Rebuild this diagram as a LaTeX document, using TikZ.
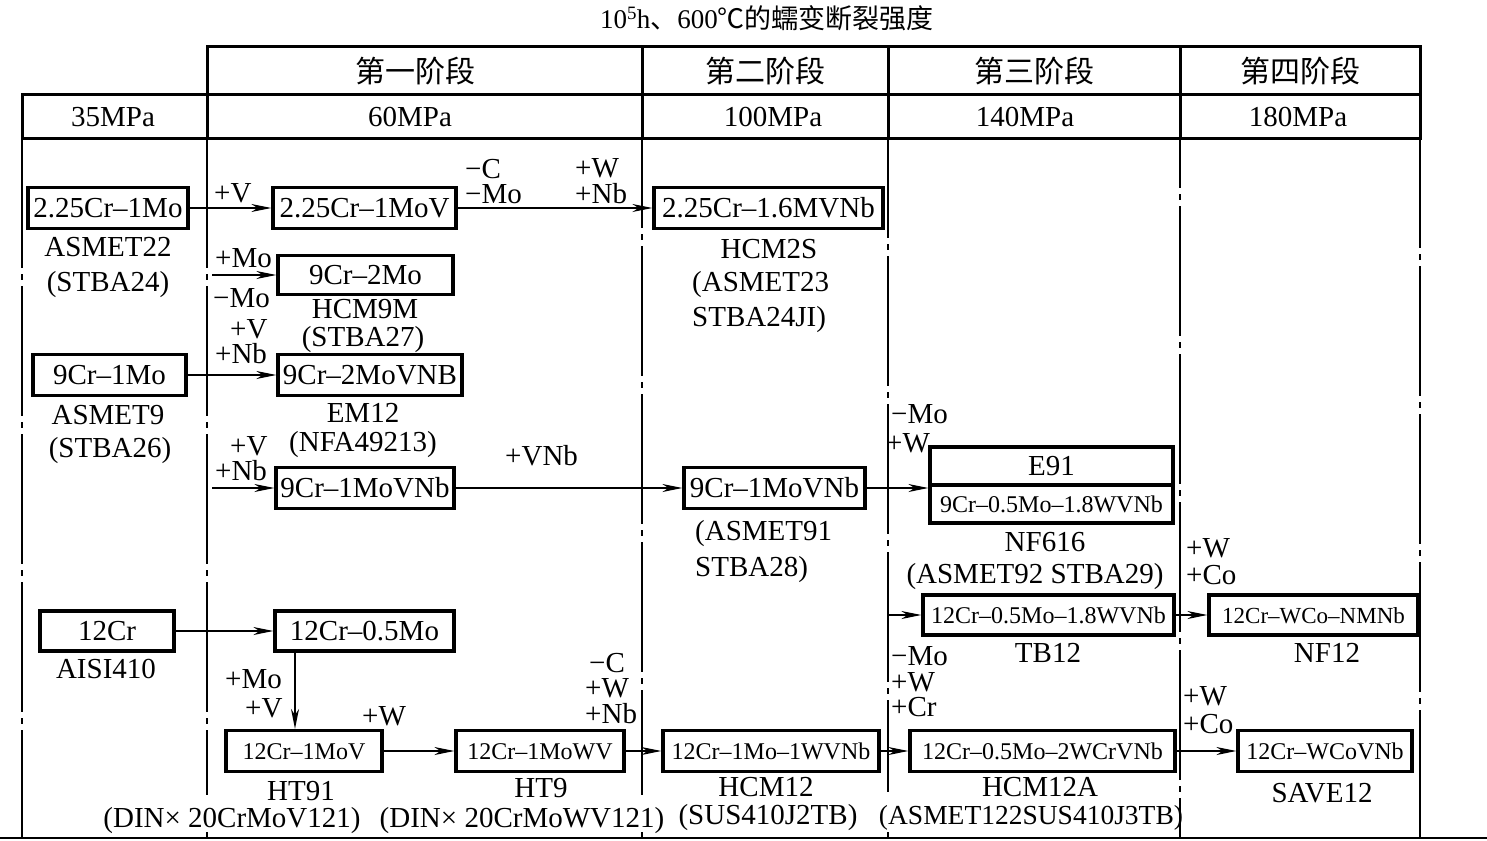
\documentclass[tikz,border=0pt]{standalone}
\usepackage{fontspec}
\setmainfont{Liberation Serif}
\newfontfamily\cjk{Noto Sans CJK SC}
\usetikzlibrary{arrows.meta}
\newcommand\nsz{\fontsize{29pt}{30pt}\selectfont}
\newcommand\ssz{\fontsize{24pt}{25pt}\selectfont}
\begin{document}
\begin{tikzpicture}[x=1pt,y=-1pt,
 bx/.style={draw,line width=3.2pt,minimum height=41pt,inner sep=0pt,font=\nsz,text height=19pt,text depth=0pt},
 sbx/.style={bx,font=\ssz,text height=16pt},
 lb/.style={font=\nsz,anchor=base,inner sep=0pt,text height=19pt,text depth=4pt},
 lbw/.style={lb,anchor=base west},
 arr/.style={line width=1.4pt,-{Stealth[length=20pt,width=8pt,inset=6pt]}},
 col/.style={line width=1.8pt,dash pattern=on 130pt off 6pt on 6pt off 6pt},
 hdr/.style={line width=3pt},
 hcn/.style={font=\cjk\fontsize{30pt}{31pt}\selectfont,inner sep=0pt},
 hmp/.style={font=\nsz,inner sep=0pt}]
\useasboundingbox (0,0) rectangle (1487,840);
% title
\node[font=\fontsize{27pt}{28pt}\selectfont,inner sep=0pt] (title) at (767,18) {10\textsuperscript{5}h{\cjk 、}600{\cjk ℃的蠕变断裂强度}};
% column lines
\draw[col,line width=1.4pt] (22,138) -- (22,838);
\draw[col] (207,138) -- (207,795);
\draw[col,dash phase=40pt] (642,138) -- (642,795);
\draw[col,dash phase=30pt] (888,138) -- (888,792);
\foreach \xx in {207,642,888} \draw[line width=1.8pt] (\xx,832) -- (\xx,838);
\draw[col,dash phase=80pt] (1180,138) -- (1180,838);
\draw[col,dash phase=20pt] (1420,138) -- (1420,838);
\draw[line width=1.4pt] (0,838) -- (1487,838);
% header
\draw[hdr] (207,47) rectangle (1420,95);
\draw[hdr] (22,95) rectangle (1420,138);
\draw[hdr] (207,95) -- (207,138);
\foreach \xx in {642,888,1180} \draw[hdr] (\xx,47) -- (\xx,138);
\node[hcn] (st1) at (415,71) {第一阶段};
\node[hcn] (st2) at (765,71) {第二阶段};
\node[hcn] (st3) at (1034,71) {第三阶段};
\node[hcn] (st4) at (1300,71) {第四阶段};
\node[hmp] (mp0) at (113,117) {35MPa};
\node[hmp] (mp1) at (410,117) {60MPa};
\node[hmp] (mp2) at (773,117) {100MPa};
\node[hmp] (mp3) at (1025,117) {140MPa};
\node[hmp] (mp4) at (1298,117) {180MPa};
% boxes
\node[bx,minimum width=160pt] (a1) at (108,208) {2.25Cr–1Mo};
\node[bx,minimum width=183pt] (a2) at (364.5,208) {2.25Cr–1MoV};
\node[bx,minimum width=229pt] (a3) at (768.5,208) {2.25Cr–1.6MVNb};
\node[bx,minimum width=175pt,minimum height=39pt] (b1) at (365.5,275) {9Cr–2Mo};
\node[bx,minimum width=153pt] (c0) at (109.5,375) {9Cr–1Mo};
\node[bx,minimum width=184pt] (c1) at (370,375) {9Cr–2MoVNB};
\node[bx,minimum width=178pt] (d1) at (365,488) {9Cr–1MoVNb};
\node[bx,minimum width=181pt] (d2) at (774.5,488) {9Cr–1MoVNb};
\node[bx,minimum width=243pt,minimum height=38pt] (e1) at (1051.5,466) {E91};
\node[sbx,minimum width=243pt,minimum height=38pt] (e2) at (1051.5,504) {9Cr–0.5Mo–1.8WVNb};
\node[sbx,minimum width=251pt,minimum height=40pt] (f1) at (1048.5,615) {12Cr–0.5Mo–1.8WVNb};
\node[sbx,minimum width=209pt,minimum height=40pt,font=\fontsize{23pt}{24pt}\selectfont] (f2) at (1313.5,615) {12Cr–WCo–NMNb};
\node[bx,minimum width=134pt,minimum height=40pt] (g0) at (107,631) {12Cr};
\node[bx,minimum width=179pt,minimum height=40pt] (g1) at (364.5,631) {12Cr–0.5Mo};
\node[sbx,minimum width=156pt,minimum height=41pt] (h1) at (304,751) {12Cr–1MoV};
\node[sbx,minimum width=168pt,minimum height=41pt] (h2) at (540,751) {12Cr–1MoWV};
\node[sbx,minimum width=216pt,minimum height=41pt] (h3) at (771,751) {12Cr–1Mo–1WVNb};
\node[sbx,minimum width=265pt,minimum height=41pt] (h4) at (1042.5,751) {12Cr–0.5Mo–2WCrVNb};
\node[sbx,minimum width=174pt,minimum height=41pt] (h5) at (1325,751) {12Cr–WCoVNb};
% free ends
\coordinate (s1) at (212,275);
\coordinate (s2) at (212,488);
\coordinate (s3) at (889,615);
\coordinate (vx) at (295,0);
% connectors
\draw[arr] (a1.east) -- (a2.west);
\draw[arr] (a2.east) -- (a3.west);
\draw[arr] (s1) -- (b1.west);
\draw[arr] (c0.east) -- (c1.west);
\draw[arr] (s2) -- (d1.west);
\draw[arr] (d1.east) -- (d2.west);
\draw[arr] (d2.east) -- (d2.east -| e2.west);
\draw[arr] (s3) -- (f1.west);
\draw[arr] (f1.east) -- (f2.west);
\draw[arr] (g0.east) -- (g1.west);
\draw[arr] (g1.south -| vx) -- (h1.north -| vx);
\draw[arr] (h1.east) -- (h2.west);
\draw[arr] (h2.east) -- (h3.west);
\draw[arr] (h3.east) -- (h4.west);
\draw[arr] (h4.east) -- (h5.west);
% change labels
\node[lbw] (l1) at (214,202) {+V};
\node[lbw] (l2) at (465,178) {−C};
\node[lbw] (l3) at (465,203) {−Mo};
\node[lbw] (l4) at (575,177) {+W};
\node[lbw] (l5) at (575,203) {+Nb};
\node[lbw] (l6) at (215,267) {+Mo};
\node[lbw] (l7) at (213,307) {−Mo};
\node[lbw] (l8) at (230,338) {+V};
\node[lbw] (l9) at (215,363) {+Nb};
\node[lbw] (l10) at (230,455) {+V};
\node[lbw] (l11) at (215,480) {+Nb};
\node[lbw] (l12) at (505,465) {+VNb};
\node[lbw] (l13) at (891,423) {−Mo};
\node[lbw] (l14) at (886,452) {+W};
\node[lbw] (l15) at (1186,557) {+W};
\node[lbw] (l16) at (1186,584) {+Co};
\node[lbw] (l17) at (225,688) {+Mo};
\node[lbw] (l18) at (245,717) {+V};
\node[lbw] (l19) at (362,725) {+W};
\node[lbw] (l20) at (589,672) {−C};
\node[lbw] (l21) at (585,697) {+W};
\node[lbw] (l22) at (585,723) {+Nb};
\node[lbw] (l23) at (891,665) {−Mo};
\node[lbw] (l24) at (891,691) {+W};
\node[lbw] (l25) at (891,716) {+Cr};
\node[lbw] (l26) at (1183,705) {+W};
\node[lbw] (l27) at (1183,733) {+Co};
% designations
\node[lb] (n1) at (108,256) {ASMET22};
\node[lb] (n2) at (108,291) {(STBA24)};
\node[lb] (n3) at (108,424) {ASMET9};
\node[lb] (n4) at (110,457) {(STBA26)};
\node[lb] (n5) at (365,318) {HCM9M};
\node[lb] (n6) at (363,346) {(STBA27)};
\node[lb] (n7) at (363,422) {EM12};
\node[lb] (n8) at (363,451) {(NFA49213)};
\node[lb] (n9) at (769,258) {HCM2S};
\node[lbw] (n10) at (692,291) {(ASMET23};
\node[lbw] (n11) at (692,326) {STBA24JI)};
\node[lbw] (n12) at (695,540) {(ASMET91};
\node[lbw] (n13) at (695,576) {STBA28)};
\node[lb] (n14) at (1045,551) {NF616};
\node[lb] (n15) at (1035,583) {(ASMET92 STBA29)};
\node[lb] (n16) at (1048,662) {TB12};
\node[lb] (n17) at (1327,662) {NF12};
\node[lb] (n18) at (106,678) {AISI410};
\node[lb] (n19) at (301,800) {HT91};
\node[lb] (n20) at (541,797) {HT9};
\node[lb] (n21) at (766,796) {HCM12};
\node[lb] (n22) at (1040,796) {HCM12A};
\node[lb] (n23) at (1322,802) {SAVE12};
\node[lb] (n24) at (232,827) {(DIN× 20CrMoV121)};
\node[lb] (n25) at (522,827) {(DIN× 20CrMoWV121)};
\node[lb] (n26) at (768,824) {(SUS410J2TB)};
\node[lb,font=\fontsize{27.5pt}{28pt}\selectfont] (n27) at (1031,824) {(ASMET122SUS410J3TB)};
\end{tikzpicture}
\end{document}
